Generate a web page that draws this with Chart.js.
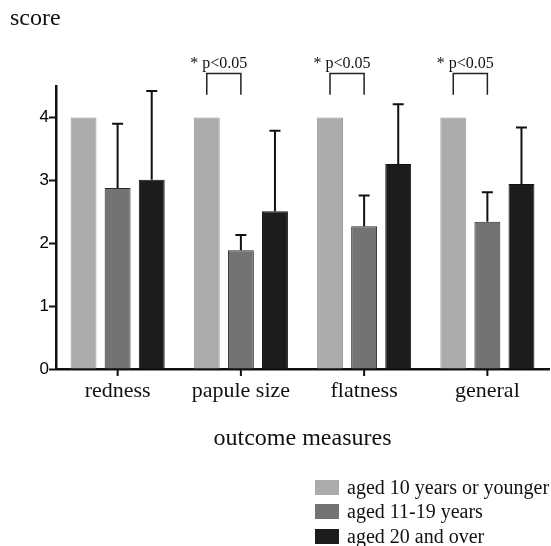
<!DOCTYPE html>
<html>
<head>
<meta charset="utf-8">
<script src="https://cdn.jsdelivr.net/npm/chart.js@4/dist/chart.umd.min.js"></script>
<style>
  html, body { margin: 0; padding: 0; background: #fff; }
  #wrap { position: relative; width: 551px; height: 546px; }
  #score { position: absolute; left: 10px; top: 4px; font: 24px "Liberation Serif", serif; color: #111; }
  #legend { position: absolute; left: 315px; top: 475px; font: 20px "Liberation Serif", serif; color: #111; }
  .row { display: flex; align-items: center; height: 24.5px; }
  .box { width: 24px; height: 15px; margin-right: 8px; box-sizing: border-box; }
</style>
</head>
<body>
<div id="wrap">
  <canvas id="c" width="551" height="546"></canvas>
  <div id="score">score</div>
  <div id="legend"></div>
</div>
<script>
const categories = ['redness', 'papule size', 'flatness', 'general'];
const seriesNames = ['aged 10 years or younger', 'aged 11-19 years', 'aged 20 and over'];
const young = [4.0, 4.0, 4.0, 4.0];
const teen = [2.88, 1.89, 2.27, 2.34];
const adult = [3.01, 2.51, 3.26, 2.94];
const youngErr = [null, null, null, null];
const teenErr = [3.9, 2.13, 2.76, 2.81];
const adultErr = [4.42, 3.79, 4.21, 3.84];
const yTicks = [0, 1, 2, 3, 4];
const sigCategories = ['papule size', 'flatness', 'general'];
const sigLabel = '* p<0.05';
const sigTop = 4.70;
const sigBottom = 4.36;

const colors = ['#ababab', '#737373', '#1c1c1c'];
const borders = ['#9a9a9a', '#2a2a2a', '#111111'];
const errs = [youngErr, teenErr, adultErr];

const legend = document.getElementById('legend');
seriesNames.forEach((n, i) => {
  const r = document.createElement('div'); r.className = 'row';
  const b = document.createElement('div'); b.className = 'box'; b.style.background = colors[i];
  const t = document.createElement('span'); t.textContent = n;
  r.appendChild(b); r.appendChild(t); legend.appendChild(r);
});

const extras = {
  id: 'extras',
  afterDatasetsDraw(chart) {
    const ctx = chart.ctx, y = chart.scales.y, x = chart.scales.x;
    ctx.save();
    ctx.strokeStyle = '#111';
    ctx.lineWidth = 2;
    categories.forEach((c, i) => {
      const px = x.getPixelForValue(i);
      ctx.beginPath();
      ctx.moveTo(px, chart.chartArea.bottom);
      ctx.lineTo(px, chart.chartArea.bottom + 7);
      ctx.stroke();
    });
    errs.forEach((arr, di) => {
      const meta = chart.getDatasetMeta(di);
      meta.data.forEach((bar, i) => {
        if (arr[i] == null) return;
        const top = y.getPixelForValue(arr[i]);
        ctx.beginPath();
        ctx.moveTo(bar.x, bar.y);
        ctx.lineTo(bar.x, top);
        ctx.moveTo(bar.x - 5.5, top);
        ctx.lineTo(bar.x + 5.5, top);
        ctx.stroke();
      });
    });
    ctx.lineWidth = 1.5;
    ctx.strokeStyle = '#222';
    ctx.fillStyle = '#111';
    ctx.font = '16px "Liberation Serif", serif';
    ctx.textAlign = 'center';
    ctx.textBaseline = 'alphabetic';
    sigCategories.forEach(cat => {
      const i = categories.indexOf(cat);
      const x1 = chart.getDatasetMeta(0).data[i].x;
      const x2 = chart.getDatasetMeta(1).data[i].x;
      const yt = y.getPixelForValue(sigTop), yb = y.getPixelForValue(sigBottom);
      ctx.beginPath();
      ctx.moveTo(x1, yb); ctx.lineTo(x1, yt); ctx.lineTo(x2, yt); ctx.lineTo(x2, yb);
      ctx.stroke();
      ctx.fillText(sigLabel, (x1 + x2) / 2 - 5, yt - 5.5);
    });
    ctx.restore();
  }
};

new Chart(document.getElementById('c'), {
  type: 'bar',
  data: {
    labels: categories,
    datasets: [young, teen, adult].map((d, i) => ({
      label: seriesNames[i], data: d,
      backgroundColor: colors[i], borderColor: borders[i], borderWidth: 1,
      categoryPercentage: 0.83, barPercentage: 0.76
    }))
  },
  options: {
    responsive: false, animation: false,
    layout: { padding: { top: 86, right: 2, left: 0, bottom: 93 } },
    plugins: { legend: { display: false }, tooltip: { enabled: false } },
    scales: {
      x: {
        grid: { display: false, tickLength: 6 },
        border: { display: true, color: '#111', width: 2.5 },
        ticks: { color: '#111', padding: 3, font: { family: 'Liberation Serif', size: 22 } },
        title: { display: true, text: 'outcome measures', color: '#111', padding: 0,
                 font: { family: 'Liberation Serif', size: 24 } },
        afterFit(s) { s.height = 84; }
      },
      y: {
        min: 0, max: 4.5,
        afterBuildTicks(s) { s.ticks = yTicks.map(v => ({ value: v })); },
        grid: { drawOnChartArea: false, tickLength: 7, color: '#111', tickWidth: 2 },
        border: { color: '#111', width: 2.5 },
        ticks: { color: '#000', padding: 0, font: { family: 'Liberation Sans', size: 17 } },
        afterFit(s) { s.width = 56; }
      }
    }
  },
  plugins: [extras]
});
</script>
</body>
</html>
